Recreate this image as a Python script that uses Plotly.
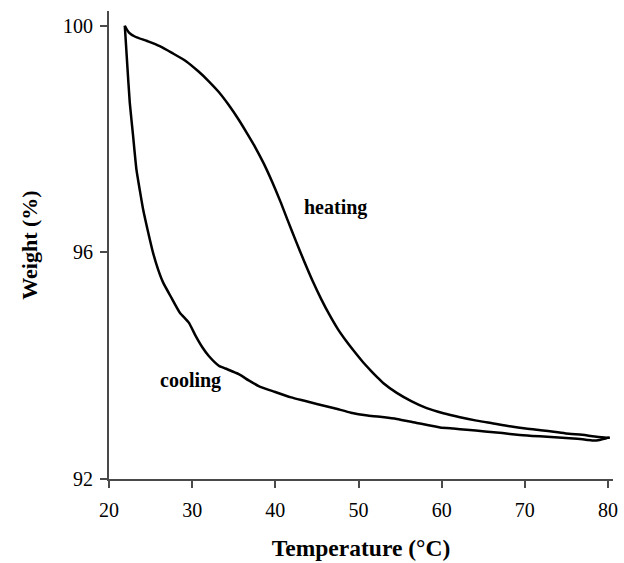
import plotly.graph_objects as go

# Thermogravimetric hysteresis loop: weight vs temperature
heating_temp = [21.9, 22.4, 23.1, 24.6, 26.1, 27.7, 29.3, 30.7, 32.0, 33.2, 34.4, 35.6,
                36.6, 37.6, 38.6, 39.6, 40.6, 41.5, 42.5, 43.5, 44.5, 45.5, 46.5, 47.5,
                48.5, 49.5, 50.5, 51.5, 52.3, 53.0, 54.6, 56.4, 58.2, 60.2, 62.2, 64.2,
                66.2, 68.2, 70.1, 71.9, 73.7, 75.3, 76.9, 78.4, 79.8, 80.2]
heating_weight = [100.0, 99.88, 99.81, 99.73, 99.64, 99.51, 99.37, 99.20, 99.02, 98.83, 98.60, 98.34,
                  98.10, 97.85, 97.57, 97.25, 96.90, 96.56, 96.19, 95.83, 95.49, 95.18, 94.90, 94.65,
                  94.44, 94.25, 94.07, 93.91, 93.79, 93.69, 93.52, 93.37, 93.25, 93.16, 93.09, 93.03,
                  92.98, 92.93, 92.89, 92.86, 92.83, 92.80, 92.78, 92.75, 92.73, 92.73]

cooling_temp = [80.2, 79.8, 79.0, 78.1, 77.5, 76.3, 74.5, 72.7, 70.9, 69.1, 67.3, 65.2,
                63.0, 61.4, 59.8, 57.0, 54.6, 53.1, 51.1, 49.1, 47.1, 45.1, 43.5, 41.9,
                39.9, 38.0, 36.8, 35.6, 34.0, 33.2, 32.0, 31.2, 30.4, 29.6, 28.5, 27.5,
                26.5, 25.9, 25.3, 24.7, 24.1, 23.7, 23.3, 22.9, 22.5, 22.2, 21.9]
cooling_weight = [92.73, 92.72, 92.69, 92.68, 92.69, 92.71, 92.73, 92.745, 92.76, 92.78, 92.81, 92.84,
                  92.87, 92.89, 92.91, 92.99, 93.06, 93.09, 93.12, 93.17, 93.25, 93.32, 93.38, 93.44,
                  93.54, 93.64, 93.74, 93.85, 93.95, 94.00, 94.17, 94.33, 94.53, 94.76, 94.94, 95.20,
                  95.47, 95.70, 95.99, 96.36, 96.76, 97.10, 97.46, 98.05, 98.64, 99.30, 100.0]

x_ticks = [20, 30, 40, 50, 60, 70, 80]
y_ticks = [92, 96, 100]

FONT = "Liberation Serif"

fig = go.Figure()
fig.add_trace(go.Scatter(x=heating_temp, y=heating_weight, mode="lines",
                         line=dict(color="black", width=2.5, shape="spline", smoothing=0.8),
                         name="heating"))
fig.add_trace(go.Scatter(x=cooling_temp, y=cooling_weight, mode="lines",
                         line=dict(color="black", width=2.5, shape="spline", smoothing=0.5),
                         name="cooling"))

fig.add_annotation(x=47.2, y=96.79, text="<b>heating</b>", showarrow=False,
                   font=dict(family=FONT, size=20, color="black"))
fig.add_annotation(x=29.8, y=93.73, text="<b>cooling</b>", showarrow=False,
                   font=dict(family=FONT, size=20, color="black"))

axis_common = dict(showgrid=False, zeroline=False, showline=True,
                   linecolor="#4a4a4a", linewidth=2, ticks="outside",
                   ticklen=7, tickwidth=2, tickcolor="#4a4a4a",
                   tickfont=dict(family=FONT, size=20, color="black"))

fig.update_xaxes(range=[20, 80.6], tickvals=x_ticks, ticklabelstandoff=5,
                 title=dict(text="<b>Temperature (°C)</b>", standoff=20,
                            font=dict(family=FONT, size=23.5, color="black")),
                 **axis_common)
fig.update_yaxes(range=[92, 100.26], tickvals=y_ticks, ticklabelstandoff=3,
                 title=dict(text="<b>Weight (%)</b>", standoff=19,
                            font=dict(family=FONT, size=22, color="black")),
                 **axis_common)

fig.update_layout(width=624, height=563, showlegend=False,
                  margin=dict(l=109, r=6, t=11, b=83),
                  plot_bgcolor="white", paper_bgcolor="white")

fig.write_html("out.html")
